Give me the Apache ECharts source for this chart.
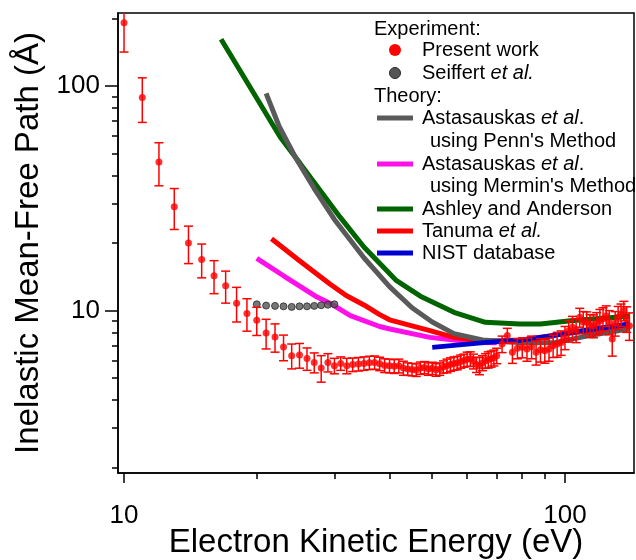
<!DOCTYPE html>
<html>
<head>
<meta charset="utf-8">
<script src="https://cdn.jsdelivr.net/npm/echarts@6/dist/echarts.min.js"></script>
<style>
  html, body { margin: 0; padding: 0; background: #fff; }
  #chart { width: 636px; height: 560px; }
</style>
</head>
<body>
<div id="chart"></div>
<script>
const FONT = "'Liberation Sans', Arial, sans-serif";

// Present work (eV, Angstrom, +/- error)
const energy = [
  10, 11, 12, 13, 14, 15, 16, 17, 18, 19,
  20, 21, 22, 23, 24, 25, 26, 27, 28, 29,
  30, 31, 32, 33, 34, 35, 36, 37, 38, 39,
  40, 41, 42, 43, 44, 45, 46, 47, 48, 49,
  50, 51, 52, 53, 54, 55, 56, 57, 58, 59,
  60, 61, 62, 63, 64, 65, 66, 67, 68, 69, 70,
  72, 74, 76, 78, 80, 82, 84, 86, 88, 90,
  92, 94, 96, 98, 100, 102, 104, 106, 108, 110,
  112, 114, 116, 118, 120, 122, 124, 126, 128, 130,
  132, 134, 136, 138, 140
];
const mfp = [
  192, 89, 46, 29, 20, 16.9, 14.3, 12.9, 10.8, 9.7,
  9.05, 7.95, 7.63, 6.88, 6.3, 6.34, 6.12, 5.88, 5.55, 5.88,
  5.68, 5.82, 5.68, 5.75, 5.78, 5.82, 5.86, 5.88, 5.8, 5.7,
  5.68, 5.65, 5.68, 5.55, 5.5, 5.47, 5.44, 5.55, 5.58, 5.5,
  5.54, 5.45, 5.5, 5.62, 5.68, 5.76, 5.82, 5.85, 5.94, 6.0,
  6.08, 6.1, 5.95, 5.75, 5.68, 5.85, 5.98, 6.05, 6.1, 6.17, 6.3,
  7.1, 7.74, 6.52, 6.8, 6.86, 6.75, 6.9, 6.52, 6.7, 6.63,
  6.75, 6.98, 7.1, 7.22, 7.6, 8.14, 8.43, 8.2, 9.34, 8.9,
  8.87, 8.6, 8.57, 8.8, 9.02, 9.2, 9.5, 8.9, 7.47, 8.8,
  9.34, 9.6, 10.0, 9.2, 8.57
];
const mfpErr = [
  50, 20, 10, 6, 3.8, 2.9, 2.4, 2.1, 1.9, 1.6,
  1.3, 1.2, 1.1, 0.9, 0.8, 0.8, 0.7, 0.6, 0.75, 0.55,
  0.45, 0.4, 0.45, 0.4, 0.4, 0.4, 0.4, 0.4, 0.4, 0.4,
  0.4, 0.4, 0.4, 0.4, 0.35, 0.35, 0.35, 0.35, 0.35, 0.35,
  0.35, 0.35, 0.35, 0.35, 0.4, 0.4, 0.4, 0.4, 0.4, 0.4,
  0.45, 0.45, 0.45, 0.45, 0.5, 0.45, 0.45, 0.5, 0.5, 0.5, 0.5,
  0.6, 0.6, 0.7, 0.7, 0.7, 0.8, 0.8, 0.8, 0.8, 0.8,
  0.8, 0.8, 0.9, 0.9, 0.9, 0.9, 1.0, 1.0, 0.9, 1.0,
  1.0, 1.0, 1.0, 1.0, 1.1, 1.1, 1.0, 1.1, 1.2, 1.1,
  1.1, 1.1, 1.0, 1.2, 1.2
];

// Seiffert et al.
const seiffertE = [20, 21, 22, 23, 24, 25, 26, 27, 28, 29, 30];
const seiffertV = [10.67, 10.53, 10.5, 10.45, 10.39, 10.45, 10.45, 10.5, 10.57, 10.63, 10.67];

// Theory curves
const pennE = [21, 22.5, 24.5, 27, 30, 35, 40, 45, 50, 56, 65, 80, 95, 112, 140];
const pennV = [93, 66, 48, 35, 25.5, 17.2, 12.8, 10.3, 8.9, 7.9, 7.4, 7.2, 7.2, 7.7, 8.3];

const merminE = [20, 23, 27.4, 29.3, 32.6, 38, 40.1, 49.4, 56, 64.3, 70];
const merminV = [17.1, 14.3, 11.5, 10.8, 9.5, 8.5, 8.28, 7.6, 7.4, 7.22, 7.2];

const ashleyE = [16.6, 18.6, 22.6, 25.1, 30.9, 35, 41.5, 47, 56, 66, 79, 88, 103, 122, 140];
const ashleyV = [162, 112, 59.4, 45.2, 26.1, 19.2, 13.6, 11.6, 9.83, 8.87, 8.72, 8.72, 9.02, 9.25, 9.45];

const tanumaE = [21.6, 25, 29.3, 31.9, 35, 38, 40, 45, 49.4, 56, 65, 80, 100, 120, 140];
const tanumaV = [20.9, 16.7, 13.15, 11.67, 10.6, 9.6, 9.1, 8.55, 8.15, 7.6, 7.3, 7.4, 7.9, 8.2, 8.6];

const nistE = [50, 66.4, 79, 94, 112, 140];
const nistV = [6.86, 7.22, 7.38, 7.74, 8.2, 8.72];

// axis ticks
const xMajor = [10, 100];
const xMinor = [20, 30, 40, 50, 60, 70, 80, 90];
const yMajor = [10, 100];
const yMinor = [2, 3, 4, 5, 6, 7, 8, 9, 20, 30, 40, 50, 60, 70, 80, 90, 200];

const pairs = (xs, ys) => xs.map((x, i) => [x, ys[i]]);

const chart = echarts.init(document.getElementById('chart'));

const lineSeries = (name, xs, ys, color) => ({
  name: name,
  type: 'line',
  data: pairs(xs, ys),
  symbol: 'none',
  smooth: false,
  lineStyle: {color: color, width: 5, cap: 'butt'},
  itemStyle: {color: color},
  z: 3
});

const X_MIN = 9.69, X_MAX = 143.4, Y_MIN = 1.89, Y_MAX = 212;

const baseX = {
  type: 'log', min: X_MIN, max: X_MAX, position: 'bottom',
  splitLine: {show: false}
};
const baseY = {
  type: 'log', min: Y_MIN, max: Y_MAX, position: 'left',
  splitLine: {show: false}
};

const legendRows = [
  {y: 29, x: 374, text: 'Experiment:'},
  {y: 50, x: 422, text: 'Present work', dot: '#ff0000'},
  {y: 73, x: 422, text: 'Seiffert {i|et al.}', dot: '#555555', dotStroke: '#2a2a2a'},
  {y: 96, x: 374, text: 'Theory:'},
  {y: 118, x: 422, text: 'Astasauskas {i|et al}.', line: '#5a5a5a'},
  {y: 141, x: 430, text: "using Penn's Method"},
  {y: 164, x: 422, text: 'Astasauskas {i|et al}.', line: '#ff10e8'},
  {y: 186, x: 430, text: "using Mermin's Method"},
  {y: 209, x: 422, text: 'Ashley and Anderson', line: '#006400'},
  {y: 231, x: 422, text: 'Tanuma {i|et al.}', line: '#ff0000'},
  {y: 253, x: 422, text: 'NIST database', line: '#0000d0'}
];

const graphics = [];
legendRows.forEach(r => {
  graphics.push({
    type: 'text', z: 10,
    style: {
      x: r.x, y: r.y, text: r.text, fill: '#000',
      font: '20px ' + FONT, verticalAlign: 'middle', align: 'left',
      rich: {i: {fontStyle: 'italic', fontSize: 20, fontFamily: FONT}}
    }
  });
  if (r.dot) {
    graphics.push({
      type: 'circle', z: 10,
      shape: {cx: 395, cy: r.y, r: r.dotStroke ? 5.5 : 6},
      style: {fill: r.dot, stroke: r.dotStroke || null, lineWidth: 1}
    });
  }
  if (r.line) {
    graphics.push({
      type: 'line', z: 10,
      shape: {x1: 377, y1: r.y, x2: 413, y2: r.y},
      style: {stroke: r.line, lineWidth: 5}
    });
  }
});

chart.setOption({
  animation: false,
  backgroundColor: '#fff',
  textStyle: {fontFamily: FONT},
  grid: {
    left: 118, top: 13, right: 2, bottom: 87,
    containLabel: false, outerBoundsMode: 'none',
    show: true, borderColor: '#000', borderWidth: 1.5
  },
  xAxis: [
    Object.assign({}, baseX, {
      name: 'Electron Kinetic Energy (eV)',
      nameLocation: 'middle', nameGap: 53, nameMoveOverlap: false,
      nameTextStyle: {fontSize: 33, color: '#000', fontFamily: FONT},
      axisLine: {show: true, lineStyle: {color: '#000', width: 1.5}},
      axisTick: {show: true, customValues: xMajor, length: 10, lineStyle: {color: '#000', width: 1.5}},
      axisLabel: {show: true, customValues: xMajor, fontSize: 26, color: '#000', margin: 30, fontFamily: FONT}
    }),
    Object.assign({}, baseX, {
      axisLine: {show: false},
      axisTick: {show: true, customValues: xMinor, length: 6, lineStyle: {color: '#000', width: 1.5}},
      axisLabel: {show: false}
    })
  ],
  yAxis: [
    Object.assign({}, baseY, {
      name: 'Inelastic Mean-Free Path (Å)',
      nameLocation: 'middle', nameGap: 73, nameMoveOverlap: false,
      nameTextStyle: {fontSize: 33, color: '#000', fontFamily: FONT},
      axisLine: {show: true, lineStyle: {color: '#000', width: 1.5}},
      axisTick: {show: true, customValues: yMajor, length: 13, lineStyle: {color: '#000', width: 1.5}},
      axisLabel: {show: true, customValues: yMajor, fontSize: 26, color: '#000', margin: 18, fontFamily: FONT}
    }),
    Object.assign({}, baseY, {
      axisLine: {show: false},
      axisTick: {show: true, customValues: yMinor, length: 6, lineStyle: {color: '#000', width: 1.5}},
      axisLabel: {show: false}
    })
  ],
  graphic: graphics,
  series: [
    lineSeries('Ashley and Anderson', ashleyE, ashleyV, '#006400'),
    lineSeries("Astasauskas et al. using Mermin's Method", merminE, merminV, '#ff10e8'),
    lineSeries('Tanuma et al.', tanumaE, tanumaV, '#ff0000'),
    lineSeries("Astasauskas et al. using Penn's Method", pennE, pennV, '#5a5a5a'),
    lineSeries('NIST database', nistE, nistV, '#0000d0'),
    {
      name: 'Seiffert et al.',
      type: 'scatter',
      data: pairs(seiffertE, seiffertV),
      symbol: 'circle', symbolSize: 7,
      itemStyle: {color: '#555555', borderColor: '#2a2a2a', borderWidth: 1},
      z: 4
    },
    {
      name: 'Present work error',
      type: 'custom',
      clip: true,
      data: energy.map((e, i) => [e, mfp[i] - mfpErr[i], mfp[i] + mfpErr[i]]),
      encode: {x: 0, y: [1, 2]},
      renderItem: (params, api) => {
        const x = api.value(0);
        const top = api.coord([x, api.value(2)]);
        const bot = api.coord([x, api.value(1)]);
        const hw = 4.5;
        const st = {stroke: '#ff0000', lineWidth: 1.5};
        return {
          type: 'group',
          children: [
            {type: 'line', shape: {x1: top[0], y1: top[1], x2: bot[0], y2: bot[1]}, style: st},
            {type: 'line', shape: {x1: top[0] - hw, y1: top[1], x2: top[0] + hw, y2: top[1]}, style: st},
            {type: 'line', shape: {x1: bot[0] - hw, y1: bot[1], x2: bot[0] + hw, y2: bot[1]}, style: st}
          ]
        };
      },
      z: 5
    },
    {
      name: 'Present work',
      type: 'scatter',
      data: pairs(energy, mfp),
      symbol: 'circle', symbolSize: 7,
      itemStyle: {color: '#ff0000'},
      z: 6
    }
  ]
});
</script>
</body>
</html>
